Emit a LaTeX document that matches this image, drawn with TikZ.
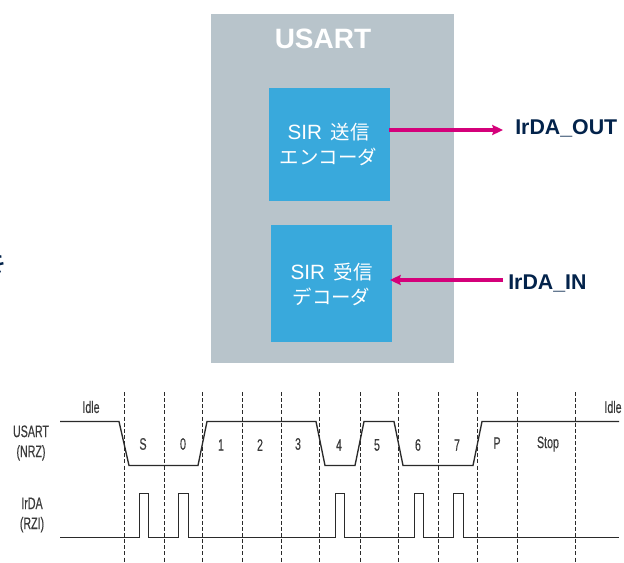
\documentclass[tikz,border=0pt]{standalone}
\usepackage{fontspec}
\setmainfont{Liberation Sans}
\newfontfamily\cjk{Noto Sans CJK JP}[Scale=0.94]
\newfontfamily\narrow[FakeStretch=0.64,FakeBold=0.25]{Liberation Sans}
\definecolor{panelgray}{HTML}{B8C4CB}
\definecolor{stblue}{HTML}{39A9DC}
\definecolor{stpink}{HTML}{D4007A}
\definecolor{stnavy}{HTML}{03234B}
\definecolor{wave}{HTML}{2A2A2A}
\definecolor{wavetext}{HTML}{3A3A3A}
\usetikzlibrary{arrows.meta}
\tikzset{
  x=0.75pt,y=-0.75pt,
  panel/.style={fill=panelgray,draw=none,inner sep=0pt,minimum width=182.25pt,minimum height=261.75pt},
  block/.style={fill=stblue,draw=none,inner sep=0pt},
  blocktext/.style={text=white,align=center,inner sep=0pt,font=\fontsize{15.5}{18.75}\selectfont},
  signal/.style={text=stnavy,font=\bfseries\fontsize{16}{19}\selectfont,inner sep=0pt},
  link/.style={draw=stpink,line width=2.3pt,-{Stealth[length=8pt,width=7.5pt,inset=1pt]}},
  tick/.style={draw=wave,line width=0.6pt,dashed,dash pattern=on 3pt off 1.6pt},
  wavepath/.style={draw=wave,line width=1pt},
  tlabel/.style={text=wavetext,inner sep=0pt,align=center,font=\narrow\fontsize{12.5}{15}\selectfont}
}
\begin{document}
\begin{tikzpicture}
\useasboundingbox (0,0) rectangle (624,563);
\fill[white] (0,0) rectangle (624,563);
% cut-off glyph at the left edge
\begin{scope}
\clip (0,240) rectangle (7,295);
\node[text=stnavy,inner sep=0pt,font=\cjk\fontsize{27.5}{27.5}\selectfont] (cut) at (-8,268) {き};
\end{scope}
% block diagram
\node[panel,anchor=north west] (usart) at (211,14) {};
\node[text=white,font=\bfseries\fontsize{21}{24}\selectfont,inner sep=0pt] (usarttitle) at (323,39) {USART};
\node[block,minimum width=90.75pt,minimum height=84.75pt,anchor=north west] (enc) at (269,88) {};
\node[blocktext] (enctext) at (328.5,145) {SIR\hspace{6.5pt}{\cjk 送信}\\{\cjk エンコーダ}};
\node[block,minimum width=90.75pt,minimum height=87.75pt,anchor=north west] (dec) at (271,225) {};
\node[blocktext] (dectext) at (331.5,284.5) {SIR\hspace{6.5pt}{\cjk 受信}\\{\cjk デコーダ}};
\node[signal,anchor=west] (out) at (515,128) {IrDA\_OUT};
\node[signal,anchor=west] (in) at (508,283) {IrDA\_IN};
\coordinate (outend) at (503,130);
\coordinate (instart) at (503,280);
\draw[link,shorten <=-1pt] (enc.east |- outend) -- (outend);
\draw[link,shorten >=-1.9pt] (instart) -- (dec.east |- instart);
% timing diagram
\foreach \n/\x in {a/124.5,b/164.5,c/202.5,d/242.5,e/281.5,f/319.5,g/360.5,h/398.5,i/438.5,j/477.5,k/517.5,l/575.5}{
  \coordinate (top\n) at (\x,392);
  \coordinate (bot\n) at (\x,563);
  \draw[tick] (top\n) -- (bot\n);
}
\draw[wavepath] (60,421.5) -- (119,421.5) -- (129,465.5) -- (198,465.5) -- (207,421.5) -- (316,421.5) -- (325,465.5) -- (355,465.5) -- (364,421.5) -- (394,421.5) -- (403,465.5) -- (473,465.5) -- (482,421.5) -- (619,421.5);
\draw[wavepath] (60,537.5) -- (139.5,537.5) -- (139.5,493.5) -- (148.5,493.5) -- (148.5,537.5) -- (178.5,537.5) -- (178.5,493.5) -- (188.5,493.5) -- (188.5,537.5) -- (335.5,537.5) -- (335.5,493.5) -- (344.5,493.5) -- (344.5,537.5) -- (414.5,537.5) -- (414.5,493.5) -- (423.5,493.5) -- (423.5,537.5) -- (453.5,537.5) -- (453.5,493.5) -- (463.5,493.5) -- (463.5,537.5) -- (619,537.5);
\node[tlabel] (idle1) at (91,407) {Idle};
\node[tlabel] (idle2) at (613,407) {Idle};
\node[tlabel] (nrz) at (31,443) {USART\\(NRZ)};
\node[tlabel] (rzi) at (32,515) {IrDA\\(RZI)};
\node[tlabel] (bs) at (143,444) {S};
\node[tlabel] (b0) at (183,444) {0};
\node[tlabel] (b1) at (221,445) {1};
\node[tlabel] (b2) at (260,445) {2};
\node[tlabel] (b3) at (298,444) {3};
\node[tlabel] (b4) at (339,445) {4};
\node[tlabel] (b5) at (377,445) {5};
\node[tlabel] (b6) at (418,445) {6};
\node[tlabel] (b7) at (457,445) {7};
\node[tlabel] (bp) at (497,443) {P};
\node[tlabel] (bstop) at (548,444) {Stop};
\end{tikzpicture}
\end{document}
